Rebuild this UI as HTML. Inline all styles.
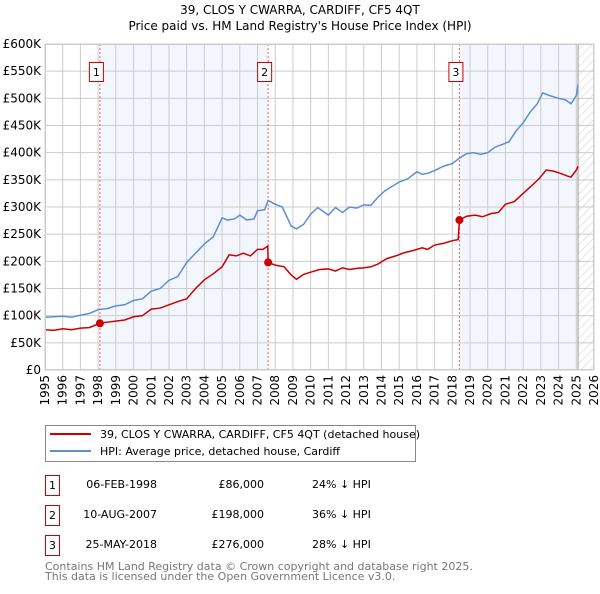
<!DOCTYPE html>
<html><head><meta charset="utf-8"><style>
body{margin:0;width:600px;height:590px;background:#fff;font-family:"DejaVu Sans","Liberation Sans",sans-serif;overflow:hidden}
svg text{font-family:"DejaVu Sans","Liberation Sans",sans-serif}
</style></head><body>
<svg id="c" width="600" height="590" xmlns="http://www.w3.org/2000/svg">
<defs><pattern id="hatch" width="6" height="6" patternUnits="userSpaceOnUse" patternTransform="rotate(45)"><line x1="0" y1="0" x2="0" y2="6" stroke="#ccc" stroke-width="1"/></pattern></defs>
<text x="300" y="14" text-anchor="middle" font-size="12">39, CLOS Y CWARRA, CARDIFF, CF5 4QT</text>
<text x="300" y="30" text-anchor="middle" font-size="12">Price paid vs. HM Land Registry's House Price Index (HPI)</text>
<g id="plot"></g>
<g>
<rect x="45.5" y="425.5" width="370" height="36" fill="#fff" stroke="#888"/>
<line x1="50" y1="434" x2="91" y2="434" stroke="#cc0000" stroke-width="2"/>
<text x="100" y="438" font-size="11">39, CLOS Y CWARRA, CARDIFF, CF5 4QT (detached house)</text>
<line x1="50" y1="451" x2="91" y2="451" stroke="#5b8fd0" stroke-width="2"/>
<text x="100" y="455" font-size="11">HPI: Average price, detached house, Cardiff</text>
</g>
<g font-size="11">
<rect x="45.5" y="475.5" width="14" height="20" fill="#fff" stroke="#cc0000"/><text x="52.5" y="489" text-anchor="middle">1</text>
<text x="157" y="488" text-anchor="end">06-FEB-1998</text><text x="264" y="488" text-anchor="end">£86,000</text><text x="312" y="488">24% ↓ HPI</text>
<rect x="45.5" y="505.5" width="14" height="20" fill="#fff" stroke="#cc0000"/><text x="52.5" y="519" text-anchor="middle">2</text>
<text x="157" y="518" text-anchor="end">10-AUG-2007</text><text x="264" y="518" text-anchor="end">£198,000</text><text x="312" y="518">36% ↓ HPI</text>
<rect x="45.5" y="535.5" width="14" height="20" fill="#fff" stroke="#cc0000"/><text x="52.5" y="549" text-anchor="middle">3</text>
<text x="157" y="548" text-anchor="end">25-MAY-2018</text><text x="264" y="548" text-anchor="end">£276,000</text><text x="312" y="548">28% ↓ HPI</text>
</g>
<text x="45" y="570" font-size="11" fill="#777">Contains HM Land Registry data © Crown copyright and database right 2025.</text>
<text x="45" y="580" font-size="11" fill="#777">This data is licensed under the Open Government Licence v3.0.</text>
</svg>
<script>
const yTicks=[0,50,100,150,200,250,300,350,400,450,500,550,600];
const yTickLabels=["£0","£50K","£100K","£150K","£200K","£250K","£300K","£350K","£400K","£450K","£500K","£550K","£600K"];
const xYears=[1995,1996,1997,1998,1999,2000,2001,2002,2003,2004,2005,2006,2007,2008,2009,2010,2011,2012,2013,2014,2015,2016,2017,2018,2019,2020,2021,2022,2023,2024,2025,2026];
const hpiDates=[1995,1995.5,1996,1996.5,1997,1997.5,1998,1998.5,1999,1999.5,2000,2000.5,2001,2001.5,2002,2002.5,2003,2003.5,2004,2004.5,2005,2005.3,2005.7,2006,2006.4,2006.8,2007,2007.4,2007.6,2008,2008.4,2008.9,2009.2,2009.6,2010,2010.4,2010.7,2011,2011.4,2011.8,2012.2,2012.6,2013,2013.4,2013.8,2014.2,2014.6,2015,2015.5,2016,2016.3,2016.6,2017,2017.5,2018,2018.4,2018.8,2019.2,2019.6,2020,2020.4,2020.8,2021.2,2021.6,2022,2022.4,2022.8,2023.1,2023.5,2024,2024.4,2024.7,2025,2025.1];
const hpiValues=[97,98,99,97,101,104,111,113,118,120,128,131,145,150,165,172,198,215,232,245,280,276,278,285,276,278,293,295,312,305,300,265,260,268,287,299,292,285,299,290,300,298,304,303,318,330,338,346,352,365,360,362,367,375,380,390,398,400,397,400,410,415,420,440,455,475,490,510,505,500,497,490,505,525];
const saleDates=[1995,1995.5,1996,1996.5,1997,1997.5,1998.1,1998.5,1999,1999.5,2000,2000.5,2001,2001.5,2002,2002.5,2003,2003.5,2004,2004.5,2005,2005.4,2005.8,2006.2,2006.6,2007,2007.3,2007.58,2007.6,2008,2008.5,2008.9,2009.2,2009.6,2010,2010.5,2011,2011.4,2011.8,2012.2,2012.6,2013,2013.4,2013.8,2014.3,2014.8,2015.3,2015.8,2016.3,2016.6,2017,2017.5,2018,2018.33,2018.4,2018.8,2019.3,2019.7,2020.2,2020.6,2021,2021.5,2022,2022.5,2022.9,2023.3,2023.7,2024.1,2024.5,2024.7,2025,2025.1];
const saleValues=[74,73,76,74,77,78,86,88,90,92,98,100,112,114,120,126,131,150,166,177,190,212,210,215,210,222,222,228,198,193,190,175,167,176,180,185,186,182,188,185,187,188,190,195,205,210,216,220,225,222,230,233,238,240,276,283,285,282,288,290,305,310,325,340,352,368,366,362,357,355,368,375];
const saleMarkDates=[1998.1,2007.6,2018.4];
const saleMarkValues=[86,198,276];
const saleMarkLabels=["1","2","3"];
const NS="http://www.w3.org/2000/svg";
const L=45,R=594,T=44,B=370;
const xs=t=>L+(t-1995)/(2026-1995)*(R-L);
const ys=v=>B-v/600*(B-T);
const g=document.getElementById('plot');
function mk(tag,attrs,parent){const e=document.createElementNS(NS,tag);for(const k in attrs)e.setAttribute(k,attrs[k]);(parent||g).appendChild(e);return e;}
const bg=mk('rect',{x:L,y:T,width:R-L,height:B-T,fill:'#fff'});


const s1=mk('rect',{x:xs(saleMarkDates[0]),y:T,width:xs(saleMarkDates[1])-xs(saleMarkDates[0]),height:B-T,fill:'#eef3fc',opacity:0.7});


const s2=mk('rect',{x:xs(saleMarkDates[2]),y:T,width:xs(2025.1)-xs(saleMarkDates[2]),height:B-T,fill:'#eef3fc',opacity:0.7});


const hz=mk('rect',{x:xs(2025.1),y:T,width:R-xs(2025.1),height:B-T,fill:'url(#hatch)'});


yTicks.forEach((v,i)=>{
  const ln=mk('line',{x1:L,x2:R,y1:ys(v),y2:ys(v),stroke:'#ccc','stroke-width':1});
  
  
  const t=mk('text',{x:L-4,y:ys(v)+4,'text-anchor':'end','font-size':12});
  t.textContent=yTickLabels[i];
  
  
});
xYears.forEach(yr=>{
  const ln=mk('line',{x1:xs(yr),x2:xs(yr),y1:T,y2:B,stroke:'#ccc','stroke-width':1});
  
  
  const t=mk('text',{x:0,y:0,'text-anchor':'end','font-size':12,transform:`translate(${xs(yr)+4},${B+5}) rotate(-90)`});
  t.textContent=yr;
  
  
});
const vend=mk('line',{x1:xs(2025.1),x2:xs(2025.1),y1:T,y2:B,stroke:'#999','stroke-width':1});


saleMarkDates.forEach((d,i)=>{
  const ln=mk('line',{x1:xs(d),x2:xs(d),y1:T,y2:B,stroke:'#f06060','stroke-width':1,'stroke-dasharray':'2,2'});
  
  
  const bx=mk('rect',{x:xs(d)-10.5,y:62.5,width:14,height:19,fill:'#fff',stroke:'#cc0000'});
  
  
  const t=mk('text',{x:xs(d)-3.5,y:76,'text-anchor':'middle','font-size':11});
  t.textContent=saleMarkLabels[i];
  
  
});
const hp=mk('polyline',{points:hpiDates.map((d,i)=>xs(d)+','+ys(hpiValues[i])).join(' '),fill:'none',stroke:'#5b8fd0','stroke-width':1.5});


const sp=mk('polyline',{points:saleDates.map((d,i)=>xs(d)+','+ys(saleValues[i])).join(' '),fill:'none',stroke:'#cc0000','stroke-width':1.5});


saleMarkDates.forEach((d,i)=>{
  const c=mk('circle',{cx:xs(d),cy:ys(saleMarkValues[i]),r:4,fill:'#cc0000'});
  
  
});
const fr=mk('rect',{x:L+0.5,y:T+0.5,width:R-L-1,height:B-T-1,fill:'none',stroke:'#ccc'});


</script>
</body></html>
